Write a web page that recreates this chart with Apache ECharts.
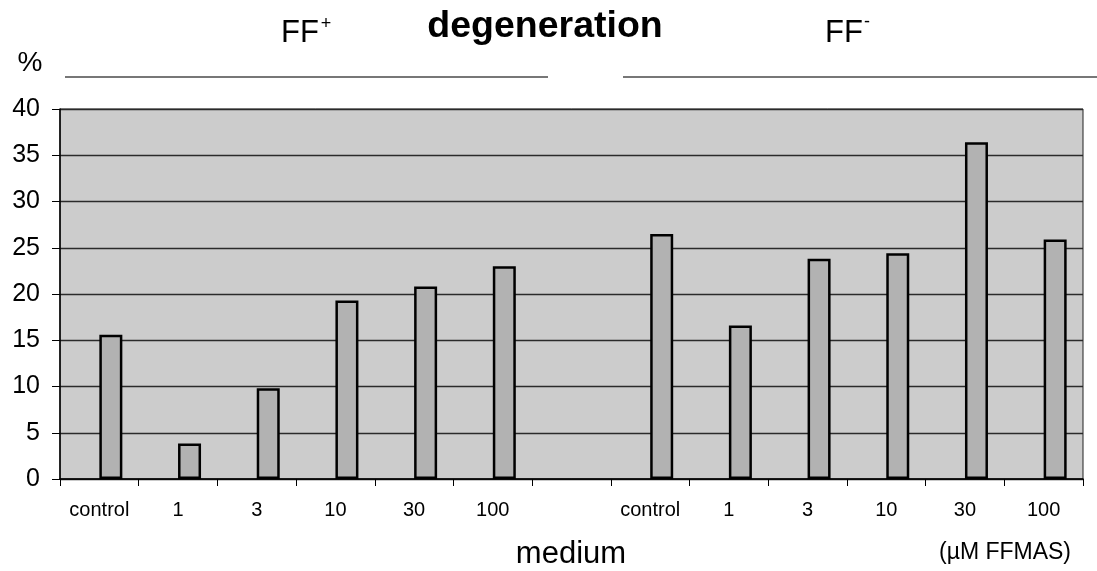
<!DOCTYPE html>
<html>
<head>
<meta charset="utf-8">
<script src="https://cdn.jsdelivr.net/npm/echarts@6/dist/echarts.min.js"></script>
<style>
html,body{margin:0;padding:0;background:#fff;}
#chart{width:1097px;height:571px;}
</style>
</head>
<body>
<div id="chart"></div>
<script>
var categories = ['control','1','3','10','30','100','','control','1','3','10','30','100'];
var degenerationValues = [15.6, 3.85, 9.8, 19.3, 20.8, 23.0, null, 26.5, 16.6, 23.8, 24.4, 36.4, 25.9];
var yTicks = {min: 0, max: 40, interval: 5};
var FONT = "'Liberation Sans', Arial, Helvetica, sans-serif";

var chart = echarts.init(document.getElementById('chart'), null, {renderer: 'canvas'});
var emptySeries = categories.map(function(){ return '-'; });

chart.setOption({
  backgroundColor: '#ffffff',
  animation: false,
  grid: {
    left: 60, right: 14, top: 109, bottom: 92,
    show: true, backgroundColor: '#cccccc', borderColor: '#222', borderWidth: 1
  },
  xAxis: {
    type: 'category',
    data: categories,
    boundaryGap: true,
    axisLine: {show: true, lineStyle: {color: '#000', width: 1.5}},
    axisTick: {show: true, length: 7, lineStyle: {color: '#000', width: 1}},
    axisLabel: {fontFamily: FONT, fontSize: 20, color: '#000', margin: 21, interval: 0}
  },
  yAxis: {
    type: 'value',
    min: yTicks.min, max: yTicks.max, interval: yTicks.interval,
    axisLine: {show: true, lineStyle: {color: '#000', width: 1.5}},
    axisTick: {show: true, length: 8, lineStyle: {color: '#000', width: 1}},
    axisLabel: {fontFamily: FONT, fontSize: 25, color: '#000', margin: 20},
    splitLine: {show: true, lineStyle: {color: '#2a2a2a', width: 1.3}}
  },
  series: [
    {type: 'bar', data: emptySeries, barWidth: 23, barGap: '0%', silent: true},
    {type: 'bar', name: 'degeneration', data: degenerationValues, barWidth: 23, barGap: '0%',
     itemStyle: {color: '#b2b2b2', borderColor: '#000', borderWidth: 2.5}}
  ],
  graphic: [
    {type: 'text', x: 545, y: 27, style: {text: 'degeneration', font: 'bold 37.5px ' + FONT, fill: '#000', align: 'center', verticalAlign: 'middle'}},
    {type: 'text', x: 300, y: 33, style: {text: 'FF', font: '31px ' + FONT, fill: '#000', align: 'center', verticalAlign: 'middle'}},
    {type: 'text', x: 326, y: 24, style: {text: '+', font: '18px ' + FONT, fill: '#000', align: 'center', verticalAlign: 'middle'}},
    {type: 'text', x: 844, y: 33, style: {text: 'FF', font: '31px ' + FONT, fill: '#000', align: 'center', verticalAlign: 'middle'}},
    {type: 'text', x: 867, y: 22, style: {text: '-', font: '18px ' + FONT, fill: '#000', align: 'center', verticalAlign: 'middle'}},
    {type: 'text', x: 30, y: 63, style: {text: '%', font: '28px ' + FONT, fill: '#000', align: 'center', verticalAlign: 'middle'}},
    {type: 'line', shape: {x1: 65, y1: 77, x2: 548, y2: 77}, style: {stroke: '#777', lineWidth: 2}},
    {type: 'line', shape: {x1: 623, y1: 77, x2: 1097, y2: 77}, style: {stroke: '#777', lineWidth: 2}},
    {type: 'text', x: 571, y: 554, style: {text: 'medium', font: '31px ' + FONT, fill: '#000', align: 'center', verticalAlign: 'middle'}},
    {type: 'text', x: 1005, y: 553, style: {text: '(\u00b5M FFMAS)', font: '23px ' + FONT, fill: '#000', align: 'center', verticalAlign: 'middle'}}
  ]
});
</script>
</body>
</html>
